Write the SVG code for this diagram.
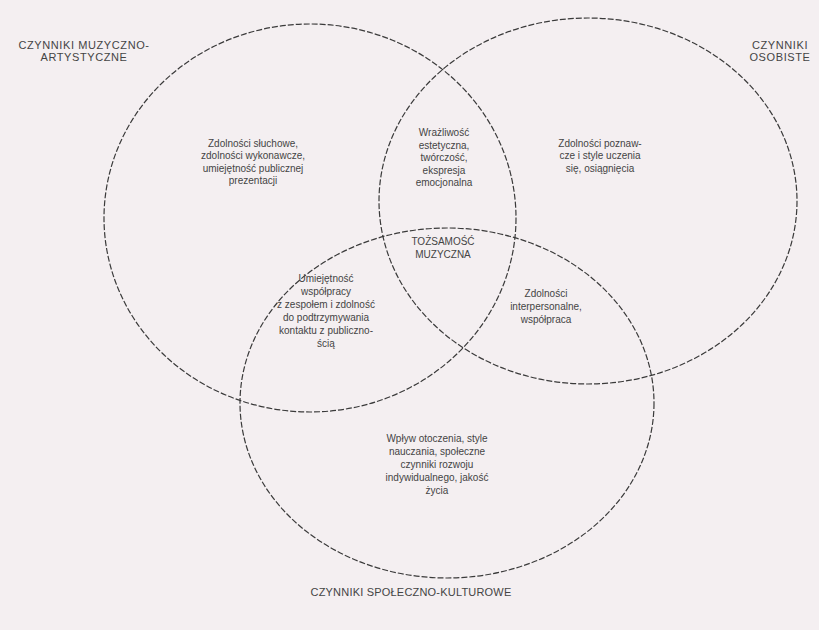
<svg xmlns="http://www.w3.org/2000/svg" width="819" height="630" viewBox="0 0 819 630">
<style>
.c{fill:none;stroke:#3a3a3a;stroke-width:1.2;stroke-dasharray:6 2}
text{font-family:"Liberation Sans",Arial,sans-serif;fill:#444;text-anchor:middle}
.t{font-size:10px}
.h{font-size:11px;letter-spacing:0.6px}
.b{font-size:11px;letter-spacing:0.2px}
</style>
<rect width="819" height="630" fill="#f4eff1"/>
<g id="connectors">
<ellipse id="circle-muzyczno" class="c" cx="310" cy="218" rx="206" ry="194"/>
<ellipse id="circle-osobiste" class="c" cx="588" cy="201" rx="209" ry="183"/>
<ellipse id="circle-spoleczno" class="c" cx="447" cy="403" rx="207" ry="175"/>
</g>
<g id="label-muzyczno"><text class="h" x="84" y="49">CZYNNIKI MUZYCZNO-</text><text class="h" x="84" y="61">ARTYSTYCZNE</text></g>
<g id="label-osobiste"><text class="h" x="780" y="49">CZYNNIKI</text><text class="h" x="780" y="61">OSOBISTE</text></g>
<g id="label-spoleczno"><text class="b" x="411" y="596">CZYNNIKI SPOŁECZNO-KULTUROWE</text></g>
<g id="node-left"><text class="t" x="253" y="147">Zdolności słuchowe,</text><text class="t" x="253" y="159">zdolności wykonawcze,</text><text class="t" x="253" y="172">umiejętność publicznej</text><text class="t" x="253" y="184">prezentacji</text></g>
<g id="node-topmid"><text class="t" x="444" y="136">Wrażliwość</text><text class="t" x="444" y="149">estetyczna,</text><text class="t" x="444" y="161">twórczość,</text><text class="t" x="444" y="174">ekspresja</text><text class="t" x="444" y="186">emocjonalna</text></g>
<g id="node-right"><text class="t" x="600" y="147">Zdolności poznaw-</text><text class="t" x="600" y="159">cze i style uczenia</text><text class="t" x="600" y="172">się, osiągnięcia</text></g>
<g id="node-center"><text class="t" x="443" y="245">TOŻSAMOŚĆ</text><text class="t" x="443" y="258">MUZYCZNA</text></g>
<g id="node-lowleft"><text class="t" x="326" y="282">Umiejętność</text><text class="t" x="326" y="295">współpracy</text><text class="t" x="326" y="308">z zespołem i zdolność</text><text class="t" x="326" y="321">do podtrzymywania</text><text class="t" x="326" y="334">kontaktu z publiczno-</text><text class="t" x="326" y="347">ścią</text></g>
<g id="node-lowright"><text class="t" x="546" y="297">Zdolności</text><text class="t" x="546" y="310">interpersonalne,</text><text class="t" x="546" y="323">współpraca</text></g>
<g id="node-bottom"><text class="t" x="437" y="442">Wpływ otoczenia, style</text><text class="t" x="437" y="455">nauczania, społeczne</text><text class="t" x="437" y="468">czynniki rozwoju</text><text class="t" x="437" y="481">indywidualnego, jakość</text><text class="t" x="437" y="494">życia</text></g>
</svg>
